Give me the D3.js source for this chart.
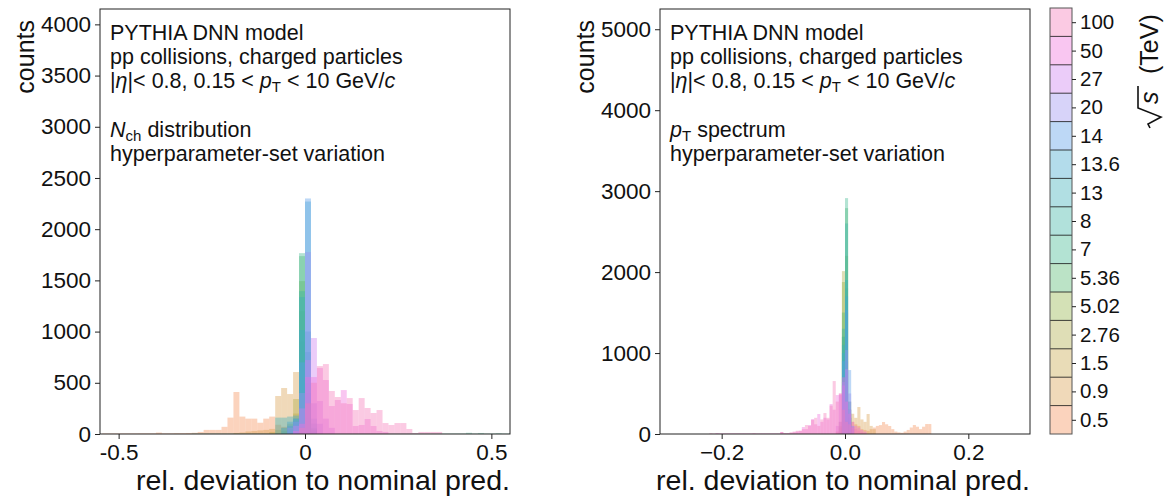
<!DOCTYPE html>
<html>
<head>
<meta charset="utf-8">
<script src="https://cdn.jsdelivr.net/npm/d3@7"></script>
<style>
  html, body { margin: 0; padding: 0; background: #fff; }
  svg { display: block; font-family: "Liberation Sans", Arial, sans-serif; }
</style>
</head>
<body>
<svg id="chart" width="1169" height="499"></svg>
<script>
// collision energies (TeV), one histogram per energy, drawn in this order
const energies = ["0.5", "0.9", "1.5", "2.76", "5.02", "5.36", "7", "8", "13", "13.6", "14", "20", "27", "50", "100"];
const energyColors = ["#f5905a", "#d9a050", "#c8a84a", "#b0ac48", "#94b448", "#55b870", "#40b890", "#3db5a5",
                      "#3cb0b8", "#40a8cc", "#5a9ee8", "#9a90f0", "#cc80f0", "#f070dc", "#f67ab8"];

// N_ch distribution: bins of width 0.016, first bin index per energy, then counts
const nchBinWidth = 0.016;
const nchFirstBin = [-34, -12, -6, -4, -3, -3, -19, -2, -5, -4, -3, -3, -2, -2, -1];
const nchCounts = [
  [5, 5, 5, 5, 5, 5, 6, 6, 6, 14, 6, 6, 8, 8, 10, 12, 20, 40, 40, 40, 70, 160, 410, 170, 150, 150, 110, 150, 170, 90, 70, 50, 30, 15, 5],
  [10, 15, 25, 30, 35, 40, 50, 371, 449, 390, 605, 250, 60, 10],
  [20, 40, 60, 100, 200, 900, 200, 30],
  [30, 80, 341, 1200, 150, 20],
  [60, 150, 1493, 300, 30],
  [40, 120, 1737, 400, 30],
  [4, 4, 4, 4, 4, 4, 4, 4, 4, 4, 4, 4, 4, 4, 4, 4, 4, 100, 1766, 500, 40,
   4, 4, 4, 4, 4, 4, 4, 4, 4, 4, 4, 4, 4, 4, 4, 4, 4, 4, 4, 4, 4, 4, 4, 4, 4, 12, 4, 10, 4, 4, 8, 4, 4],
  [120, 1395, 800, 50],
  [160, 160, 170, 150, 1337, 1000, 60],
  [60, 120, 180, 1015, 2270, 100],
  [80, 150, 700, 2300, 150],
  [60, 120, 400, 1776, 300, 100],
  [80, 250, 722, 937, 322, 150, 60],
  [30, 100, 556, 556, 644, 527, 273, 332, 429, 293, 78, 88, 146, 78, 30, 20],
  [60, 300, 500, 663, 683, 420, 361, 300, 351, 234, 351, 254, 205, 234, 107, 88, 107, 107, 49, 10, 20, 20, 20, 20]
];

// p_T spectrum: bins of width 0.005
const ptBinWidth = 0.005;
const ptFirstBin = [-3, -2, -2, -1, -1, -1, -1, -1, -1, -1, -1, -2, -3, -42, -44];
const ptCounts = [
  [30, 80, 150, 250, 200, 150, 120, 100, 60, 50, 40, 60, 80, 100, 110, 148, 120, 99, 60, 30, 20, 15, 30, 50, 80, 111, 90, 60, 90, 123, 123],
  [150, 600, 900, 400, 250, 200, 333, 180, 150, 247, 100, 60],
  [100, 1200, 1500, 300, 80],
  [2012, 1800, 200, 60],
  [1877, 2200, 150],
  [1500, 2790, 150],
  [1200, 2914, 200],
  [1300, 2600, 250],
  [1100, 1901, 300],
  [1000, 1700, 400],
  [900, 1530, 790, 100],
  [150, 642, 1037, 500, 100],
  [100, 481, 600, 800, 300, 80],
  [10, 5, 5, 5, 5, 5, 5, 5, 5, 5, 5, 5, 5, 5, 5, 5, 5, 5, 5, 5, 5, 25, 10, 10, 15, 20, 30, 40,
   86, 60, 111, 185, 120, 247, 150, 200, 180, 370, 300, 481, 500, 700, 400, 250, 150, 100, 80, 50, 30],
  [10, 5, 5, 5, 5, 5, 5, 5, 5, 5, 5, 5, 5, 5, 10, 5, 5, 5, 5, 5, 5, 5, 5, 25, 10, 10, 20, 30, 40,
   40, 60, 111, 100, 173, 200, 100, 180, 259, 200, 350, 654, 400, 500, 300, 150, 120, 80, 60, 40, 20, 10]
];

// axis ranges and ticks
const nchXDomain = [-0.55, 0.55];
const nchYDomain = [0, 4150];
const nchXTicks = [-0.5, 0, 0.5];
const nchXTickLabels = ["-0.5", "0", "0.5"];
const nchYTicks = [0, 500, 1000, 1500, 2000, 2500, 3000, 3500, 4000];

const ptXDomain = [-0.3, 0.3];
const ptYDomain = [0, 5250];
const ptXTicks = [-0.2, 0, 0.2];
const ptXTickLabels = ["\u22120.2", "0.0", "0.2"];
const ptYTicks = [0, 1000, 2000, 3000, 4000, 5000];

const barAlpha = 0.4;
const svg = d3.select("#chart");

function drawPanel(opt) {
  const { left, right, top, bottom } = opt.box;
  const x = d3.scaleLinear().domain(opt.xDomain).range([left, right]);
  const y = d3.scaleLinear().domain(opt.yDomain).range([bottom, top]);
  const g = svg.append("g");

  const clipId = "clip-" + opt.id;
  svg.append("clipPath").attr("id", clipId)
    .append("rect").attr("x", left).attr("y", top).attr("width", right - left).attr("height", bottom - top);

  const bars = g.append("g").attr("clip-path", `url(#${clipId})`);
  opt.counts.forEach((row, si) => {
    const data = row.map((c, j) => ({ k: opt.first[si] + j, c }));
    bars.append("g")
      .attr("fill", energyColors[si])
      .attr("fill-opacity", barAlpha)
      .selectAll("rect")
      .data(data.filter(d => d.c > 0))
      .join("rect")
      .attr("x", d => x(d.k * opt.binWidth))
      .attr("width", d => x((d.k + 1) * opt.binWidth) - x(d.k * opt.binWidth))
      .attr("y", d => y(d.c))
      .attr("height", d => y(0) - y(d.c));
  });

  // axes
  const xAxis = d3.axisBottom(x).tickValues(opt.xTicks)
    .tickFormat((d, i) => opt.xTickLabels[i]).tickSize(5).tickPadding(5);
  const yAxis = d3.axisLeft(y).tickValues(opt.yTicks)
    .tickFormat(d => String(d)).tickSize(5).tickPadding(4);

  const gx = g.append("g").attr("transform", `translate(0,${bottom})`).call(xAxis);
  const gy = g.append("g").attr("transform", `translate(${left},0)`).call(yAxis);
  [gx, gy].forEach(a => {
    a.select(".domain").remove();
    a.selectAll(".tick line").attr("stroke", "#222").attr("stroke-width", 1);
    a.selectAll(".tick text").attr("fill", "#111").attr("font-size", 22.5)
      .attr("font-family", "Liberation Sans, Arial, sans-serif");
  });

  // frame
  g.append("rect").attr("x", left).attr("y", top).attr("width", right - left).attr("height", bottom - top)
    .attr("fill", "none").attr("stroke", "#222").attr("stroke-width", 1);

  // axis titles
  g.append("text").attr("x", right).attr("y", 490).attr("text-anchor", "end")
    .attr("font-size", 28.5).attr("fill", "#111").text("rel. deviation to nominal pred.");
  g.append("text").attr("transform", `translate(${opt.ylabelX},20) rotate(-90)`)
    .attr("text-anchor", "end").attr("font-size", 25).attr("fill", "#111").text("counts");

  // annotation block
  const tx = left + 10;
  const fs = 21.5;
  const note = g.append("g").attr("font-size", fs).attr("fill", "#111");
  note.append("text").attr("x", tx).attr("y", 40).text("PYTHIA DNN model");
  note.append("text").attr("x", tx).attr("y", 64).text("pp collisions, charged particles");
  const l3 = note.append("text").attr("x", tx).attr("y", 88);
  l3.append("tspan").text("|");
  l3.append("tspan").attr("font-style", "italic").text("\u03b7");
  l3.append("tspan").text("|< 0.8, 0.15 < ");
  l3.append("tspan").attr("font-style", "italic").text("p");
  l3.append("tspan").attr("font-size", fs * 0.7).attr("dy", 4).text("T");
  l3.append("tspan").attr("dy", -4).text(" < 10 GeV/");
  l3.append("tspan").attr("font-style", "italic").text("c");

  const l4 = note.append("text").attr("x", tx).attr("y", 137);
  l4.append("tspan").attr("font-style", "italic").text(opt.quantity[0]);
  l4.append("tspan").attr("font-size", fs * 0.7).attr("dy", 4).text(opt.quantity[1]);
  l4.append("tspan").attr("dy", -4).text(opt.quantity[2]);
  note.append("text").attr("x", tx).attr("y", 161).text("hyperparameter-set variation");
}

drawPanel({
  id: "nch", box: { left: 100, right: 510, top: 9, bottom: 434 },
  xDomain: nchXDomain, yDomain: nchYDomain, xTicks: nchXTicks, xTickLabels: nchXTickLabels, yTicks: nchYTicks,
  binWidth: nchBinWidth, first: nchFirstBin, counts: nchCounts, ylabelX: 34,
  quantity: ["N", "ch", " distribution"]
});
drawPanel({
  id: "pt", box: { left: 660, right: 1030, top: 9, bottom: 434 },
  xDomain: ptXDomain, yDomain: ptYDomain, xTicks: ptXTicks, xTickLabels: ptXTickLabels, yTicks: ptYTicks,
  binWidth: ptBinWidth, first: ptFirstBin, counts: ptCounts, ylabelX: 594,
  quantity: ["p", "T", " spectrum"]
});

// discrete colour bar for the energies
const cb = { left: 1050, right: 1072, top: 8, bottom: 434 };
const cbScale = d3.scaleBand().domain(d3.range(energies.length)).range([cb.bottom, cb.top]);
const cbg = svg.append("g");
cbg.selectAll("rect.cell").data(energies).join("rect").attr("class", "cell")
  .attr("x", cb.left).attr("width", cb.right - cb.left)
  .attr("y", (d, i) => cbScale(i)).attr("height", cbScale.bandwidth())
  .attr("fill", (d, i) => energyColors[i]).attr("fill-opacity", barAlpha);
cbg.selectAll("line.sep").data(d3.range(1, energies.length)).join("line").attr("class", "sep")
  .attr("x1", cb.left).attr("x2", cb.right)
  .attr("y1", i => cbScale(i) + cbScale.bandwidth()).attr("y2", i => cbScale(i) + cbScale.bandwidth())
  .attr("stroke", "#111").attr("stroke-width", 0.8);
cbg.append("rect").attr("x", cb.left).attr("y", cb.top).attr("width", cb.right - cb.left).attr("height", cb.bottom - cb.top)
  .attr("fill", "none").attr("stroke", "#555").attr("stroke-width", 1);
const cbAxis = d3.axisRight(d3.scaleLinear().domain([0, energies.length]).range([cb.bottom, cb.top]))
  .tickValues(d3.range(energies.length).map(i => i + 0.5))
  .tickFormat((d, i) => energies[i]).tickSize(4).tickPadding(4);
const cba = cbg.append("g").attr("transform", `translate(${cb.right},0)`).call(cbAxis);
cba.select(".domain").remove();
cba.selectAll(".tick line").attr("stroke", "#222");
cba.selectAll(".tick text").attr("font-size", 20.5).attr("fill", "#111")
  .attr("font-family", "Liberation Sans, Arial, sans-serif");

// colour bar title: radical sign over s, then the unit, read bottom to top
const cbTitle = svg.append("g").attr("transform", "translate(1158,128) rotate(-90)");
cbTitle.append("path")
  .attr("d", "M0,-8 L4,-10 L11,3 L20,-20 L42,-20")
  .attr("fill", "none").attr("stroke", "#111").attr("stroke-width", 1.6).attr("stroke-linejoin", "miter");
cbTitle.append("text").attr("x", 24).attr("y", 0).attr("font-size", 25).attr("font-style", "italic")
  .attr("fill", "#111").text("s");
cbTitle.append("text").attr("x", 54).attr("y", 0).attr("font-size", 25).attr("fill", "#111").text("(TeV)");
</script>
</body>
</html>
